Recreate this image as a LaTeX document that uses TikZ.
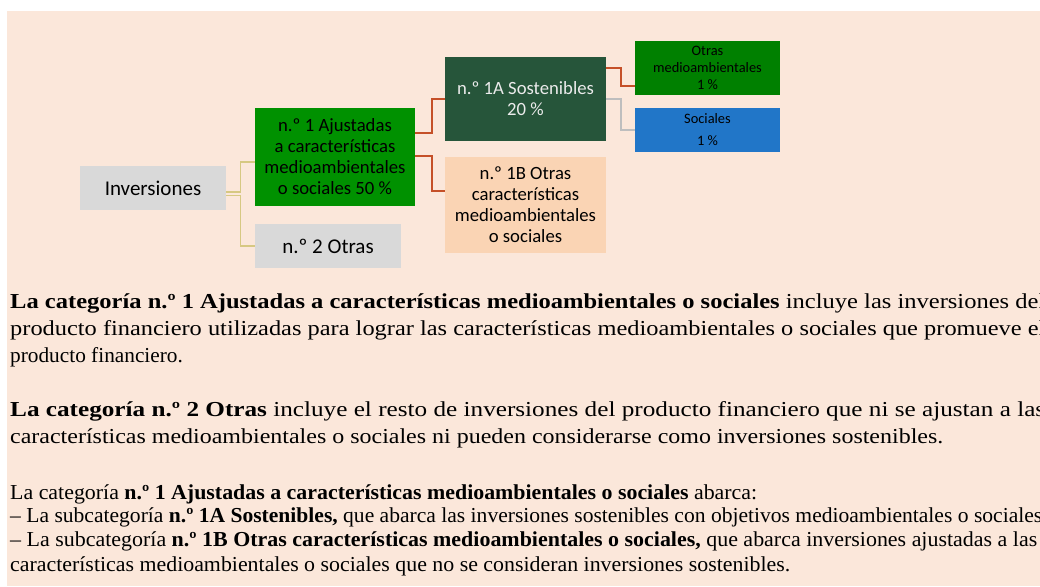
\documentclass[tikz,border=0pt]{standalone}
\usepackage{fontspec}
\setmainfont{Liberation Serif}
\newfontfamily\cajafont{Carlito}
\definecolor{fondoMelon}{RGB}{251,231,218}
\definecolor{cajaGris}{RGB}{217,217,217}
\definecolor{cajaVerde}{RGB}{0,145,0}
\definecolor{cajaVerdeOsc}{RGB}{38,85,58}
\definecolor{cajaVerdeOtras}{RGB}{0,128,0}
\definecolor{cajaAzul}{RGB}{33,118,200}
\definecolor{cajaMelocoton}{RGB}{250,212,180}
\definecolor{lineaRoja}{RGB}{197,80,40}
\definecolor{lineaGris}{RGB}{190,190,190}
\definecolor{lineaOcre}{RGB}{214,200,130}
% una linea de texto llevada a un ancho dado
\newcommand{\lineaAncha}[2]{\resizebox{#1}{\height}{#2}}

\begin{document}
\begin{tikzpicture}[
  x=1pt, y=-1pt,
  every node/.style={inner sep=0pt, align=center},
  gris/.style={fill=cajaGris, minimum width=146pt, minimum height=44pt,
               font=\cajafont\fontsize{21}{25}\selectfont},
  nivel/.style={minimum width=161pt, font=\cajafont\fontsize{18.7}{21}\selectfont},
  hoja/.style={minimum width=145pt, font=\cajafont\fontsize{14.4}{17}\selectfont},
  parrafo/.style={anchor=base west, align=left},
  lo/.style={line width=1.2pt, lineaOcre},
  lr/.style={line width=1.8pt, lineaRoja},
  lg/.style={line width=1.8pt, lineaGris}
]
\useasboundingbox (0,0) rectangle (1040,586);
\fill[fondoMelon] (7,11) rectangle (1040,586);

% diagrama
\node[gris] (inv) at (153,188) {Inversiones};
\node[nivel, fill=cajaVerde, minimum width=160pt, minimum height=98pt] (uno) at (335,157)
  {n.º 1 Ajustadas\\a características\\medioambientales\\o sociales 50 \%};
\node[gris] (dos) at (328,246) {n.º 2 Otras};
\node[nivel, fill=cajaVerdeOsc, minimum height=84pt, text=black!8] (unoA) at (525.5,99)
  {n.º 1A Sostenibles\\20 \%};
\node[nivel, fill=cajaMelocoton, minimum height=96pt] (unoB) at (525.5,205)
  {n.º 1B Otras\\características\\medioambientales\\o sociales};
\node[hoja, fill=cajaVerdeOtras, minimum height=54pt] (otras) at (707.5,68)
  {Otras\\medioambientales\\1 \%};
\node[hoja, fill=cajaAzul, minimum height=44pt] (soc) at (707.5,130)
  {Sociales\\[5pt]1 \%};

\draw[lo] ([yshift=-4pt]inv.east) -- ++(14,0) |- ([yshift=-5pt]uno.west);
\draw[lo] ([yshift=-7.5pt]inv.east) -- ++(14,0) |- (dos.west);
\draw[lr] ([yshift=24pt]uno.east) -- ++(17,0) |- (unoA.west);
\draw[lr] ([yshift=1pt]uno.east) -- ++(17,0) |- ([yshift=14pt]unoB.west);
\draw[lr] ([yshift=31pt]unoA.east) -- ++(15,0) |- ([yshift=-18pt]otras.west);
\draw[lg] (unoA.east) -- ++(15,0) |- (soc.west);

% texto
\node[parrafo] (txtUno) at (10,308) {\parbox[t]{1100pt}{\fontsize{21.3}{27}\selectfont
  \lineaAncha{1035pt}{\textbf{La categoría n.º 1 Ajustadas a características medioambientales o sociales} incluye las inversiones del}\\
  \lineaAncha{1035pt}{producto financiero utilizadas para lograr las características medioambientales o sociales que promueve el}\\
  producto financiero.}};
\node[parrafo] (txtDos) at (10,416) {\parbox[t]{1100pt}{\fontsize{21.3}{27}\selectfont
  \lineaAncha{1035pt}{\textbf{La categoría n.º 2 Otras} incluye el resto de inversiones del producto financiero que ni se ajustan a las}\\
  \lineaAncha{933pt}{características medioambientales o sociales ni pueden considerarse como inversiones sostenibles.}}};
\node[parrafo] (txtTres) at (10,499) {\parbox[t]{1100pt}{\fontsize{21.3}{23.5}\selectfont
  \lineaAncha{747pt}{La categoría \textbf{n.º 1 Ajustadas a características medioambientales o sociales} abarca:}\\
  \lineaAncha{1032pt}{– La subcategoría \textbf{n.º 1A Sostenibles,} que abarca las inversiones sostenibles con objetivos medioambientales o sociales}\\
  \lineaAncha{1027pt}{– La subcategoría \textbf{n.º 1B Otras características medioambientales o sociales,} que abarca inversiones ajustadas a las}\\[2pt]
  \lineaAncha{780pt}{características medioambientales o sociales que no se consideran inversiones sostenibles.}}};
\end{tikzpicture}
\end{document}
